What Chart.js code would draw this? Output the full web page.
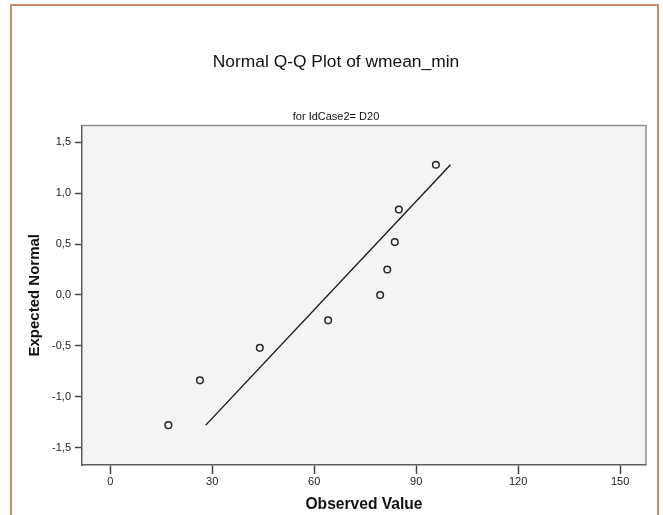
<!DOCTYPE html>
<html>
<head>
<meta charset="utf-8">
<title>Normal Q-Q Plot of wmean_min</title>
<script src="https://cdn.jsdelivr.net/npm/chart.js@4/dist/chart.umd.min.js"></script>
<style>
    body { margin: 0; background: #fff; }
    canvas { display: block; }
</style>
</head>
<body>
<canvas id="qqChart" width="663" height="515"></canvas>
<script>
// values
const observedValues = [17.1, 26.4, 44.0, 64.1, 79.4, 81.5, 83.7, 84.9, 95.8];
const expectedNormal = [-1.28, -0.84, -0.52, -0.25, 0.00, 0.25, 0.52, 0.84, 1.28];
const lineObserved = [28.1, 100.1];
const lineExpected = [-1.28, 1.28];
const xTicks = [0, 30, 60, 90, 120, 150];
const yTicks = [-1.5, -1.0, -0.5, 0.0, 0.5, 1.0, 1.5];

const fontFamily = 'Arial, "Liberation Sans", sans-serif';

// frame around the output and the grey plot box
const framePlugin = {
    id: 'frame',
    beforeDraw(chart) {
        const ctx = chart.ctx;
        const a = chart.chartArea;
        ctx.save();
        ctx.fillStyle = '#F6F3F7';
        ctx.fillRect(a.left, a.top, a.right - a.left, a.bottom - a.top);
        ctx.strokeStyle = '#C98C66';
        ctx.lineWidth = 2;
        ctx.beginPath();
        ctx.moveTo(11, 515);
        ctx.lineTo(11, 5);
        ctx.lineTo(658, 5);
        ctx.lineTo(658, 515);
        ctx.stroke();
        ctx.restore();
    },
    afterDraw(chart) {
        const ctx = chart.ctx;
        const a = chart.chartArea;
        ctx.save();
        ctx.strokeStyle = '#8E8E8E';
        ctx.lineWidth = 1.5;
        ctx.beginPath();
        ctx.moveTo(a.left, a.top);
        ctx.lineTo(a.right, a.top);
        ctx.lineTo(a.right, a.bottom);
        ctx.stroke();
        ctx.restore();
    }
};

const points = observedValues.map((v, i) => ({ x: v, y: expectedNormal[i] }));
const linePoints = lineObserved.map((v, i) => ({ x: v, y: lineExpected[i] }));

const commaFormat = (value) => value.toFixed(1).replace('.', ',');

new Chart(document.getElementById('qqChart').getContext('2d'), {
    type: 'scatter',
    data: {
        datasets: [{
            label: 'Observed',
            data: points,
            pointStyle: 'circle',
            pointRadius: 3.3,
            pointBorderWidth: 1.5,
            pointBorderColor: '#262626',
            pointBackgroundColor: 'rgba(0,0,0,0)',
            showLine: false
        }, {
            type: 'line',
            label: 'Line',
            data: linePoints,
            borderColor: '#1a1a1a',
            borderWidth: 1.4,
            pointRadius: 0,
            fill: false
        }]
    },
    options: {
        responsive: false,
        animation: false,
        layout: {
            padding: { left: 26, right: 17, top: 0, bottom: 0 }
        },
        plugins: {
            legend: { display: false },
            tooltip: { enabled: false },
            title: {
                display: true,
                text: 'Normal Q-Q Plot of wmean_min',
                color: '#111',
                font: { family: fontFamily, size: 17.4, weight: 'normal' },
                padding: { top: 52, bottom: 37 }
            },
            subtitle: {
                display: true,
                text: 'for IdCase2= D20',
                color: '#111',
                font: { family: fontFamily, size: 11, weight: 'normal' },
                padding: { top: 0, bottom: 2.5 }
            }
        },
        scales: {
            x: {
                type: 'linear',
                min: -8.3,
                max: 157.6,
                afterFit: (scale) => { scale.height = 50; },
                afterBuildTicks: (scale) => { scale.ticks = xTicks.map(v => ({ value: v })); },
                ticks: {
                    color: '#222',
                    font: { family: fontFamily, size: 11 },
                    padding: 1,
                    maxRotation: 0
                },
                grid: {
                    drawOnChartArea: false,
                    drawTicks: true,
                    tickLength: 9,
                    tickColor: '#444',
                    tickWidth: 1.5
                },
                border: { display: true, color: '#5c5c5c', width: 1.5 },
                title: {
                    display: true,
                    text: 'Observed Value',
                    color: '#111',
                    font: { family: fontFamily, size: 15.6, weight: 'bold' },
                    padding: { top: 0, bottom: 1 }
                }
            },
            y: {
                type: 'linear',
                min: -1.672,
                max: 1.665,
                afterFit: (scale) => { scale.width = 56; },
                afterBuildTicks: (scale) => { scale.ticks = yTicks.map(v => ({ value: v })); },
                ticks: {
                    color: '#222',
                    font: { family: fontFamily, size: 11 },
                    padding: 4,
                    callback: (value) => commaFormat(value)
                },
                grid: {
                    drawOnChartArea: false,
                    drawTicks: true,
                    tickLength: 7,
                    tickColor: '#444',
                    tickWidth: 1.5
                },
                border: { display: true, color: '#5c5c5c', width: 1.5 },
                title: {
                    display: true,
                    text: 'Expected Normal',
                    color: '#111',
                    font: { family: fontFamily, size: 15, weight: 'bold' },
                    padding: { top: 0, bottom: 0 }
                }
            }
        }
    },
    plugins: [framePlugin]
});
</script>
</body>
</html>
